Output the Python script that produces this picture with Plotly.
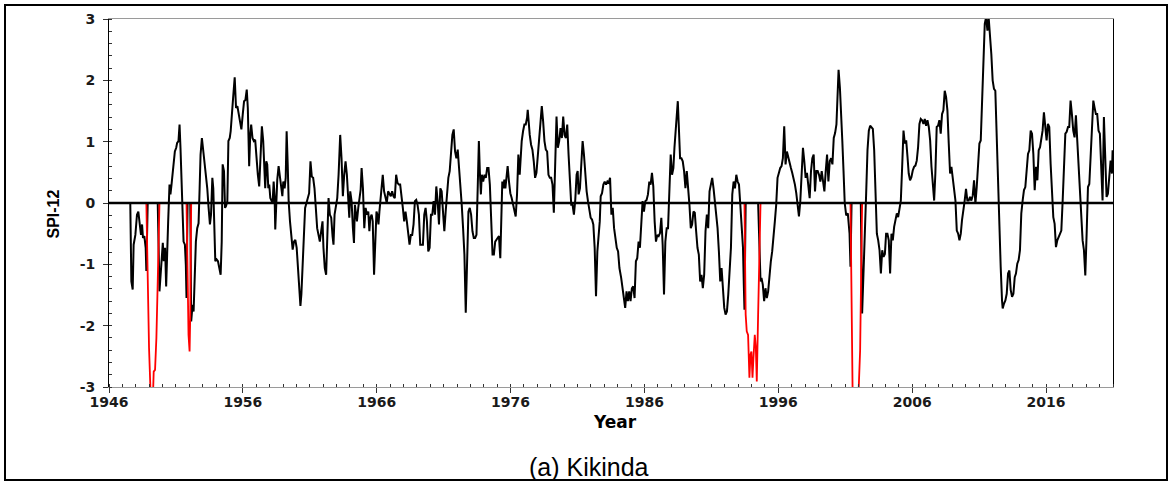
import plotly.graph_objects as go

# ---- data: (decimal year, SPI-12) ----
spi_1940s = [
    (1947.59, 0.0), (1947.67, -1.28), (1947.77, -1.41), (1947.84, -0.68), (1947.97, -0.52),
    (1948.09, -0.19), (1948.19, -0.14), (1948.29, -0.35), (1948.39, -0.52), (1948.47, -0.35),
    (1948.54, -0.57), (1948.64, -0.54), (1948.74, -0.73), (1948.79, -1.11),
    (1948.89, -1.28), (1948.99, -2.36), (1949.09, -3.0), (1949.19, -3.3), (1949.29, -3.1),
    (1949.34, -2.75), (1949.44, -2.72), (1949.54, -2.2), (1949.64, -1.28),
    (1949.77, -1.44), (1949.84, -1.17), (1949.92, -0.84),
]
spi_1950s = [
    (1950.02, -0.65), (1950.09, -0.95), (1950.19, -0.73), (1950.27, -1.36), (1950.34, -0.63),
    (1950.42, -0.3), (1950.52, 0.3), (1950.59, 0.14), (1950.67, 0.3), (1950.77, 0.52),
    (1950.84, 0.68), (1950.92, 0.84), (1951.02, 0.9), (1951.09, 0.98), (1951.19, 1.01),
    (1951.27, 1.28), (1951.34, 0.9), (1951.42, 0.46), (1951.49, 0.03), (1951.57, -0.63),
    (1951.67, -0.68), (1951.74, -1.01), (1951.79, -1.55),
    (1951.87, -1.82), (1951.94, -2.15), (1952.02, -2.42), (1952.07, -1.82),
    (1952.14, -1.93), (1952.24, -1.66), (1952.32, -1.77), (1952.39, -1.28), (1952.49, -0.63),
    (1952.59, -0.41), (1952.69, -0.33), (1952.77, 0.24), (1952.84, 0.79), (1952.94, 1.06),
    (1953.04, 0.84), (1953.14, 0.68), (1953.24, 0.52), (1953.34, 0.24), (1953.44, -0.08),
    (1953.54, -0.35), (1953.62, -0.19), (1953.72, 0.41), (1953.79, 0.24), (1953.87, -0.46),
    (1953.94, -0.95), (1954.04, -0.92), (1954.14, -0.95), (1954.24, -1.06), (1954.34, -1.17),
    (1954.42, -0.63), (1954.49, 0.63), (1954.59, 0.52), (1954.67, -0.08), (1954.74, -0.05),
    (1954.84, 0.03), (1954.92, 1.01), (1955.02, 1.06), (1955.09, 1.17), (1955.17, 1.49),
    (1955.27, 1.71), (1955.39, 2.05), (1955.49, 1.55), (1955.59, 1.58), (1955.69, 1.47),
    (1955.79, 1.33), (1955.89, 1.2), (1955.99, 1.44), (1956.09, 1.66), (1956.19, 1.68),
    (1956.29, 1.85), (1956.37, 1.55), (1956.47, 0.6), (1956.55, 1.11), (1956.62, 1.28),
    (1956.72, 1.06), (1956.82, 1.01), (1956.92, 1.03), (1957.02, 0.68), (1957.12, 0.46),
    (1957.22, 0.27), (1957.32, 0.73), (1957.42, 1.25), (1957.52, 1.01), (1957.6, 0.52),
    (1957.67, 0.24), (1957.75, 0.68), (1957.82, 0.63), (1957.9, 0.24), (1957.97, 0.3),
    (1958.05, 0.08), (1958.12, 0.05), (1958.22, 0.0), (1958.3, 0.35), (1958.37, 0.11),
    (1958.42, -0.43), (1958.5, 0.03), (1958.57, 0.38), (1958.67, 0.6), (1958.77, 0.41),
    (1958.87, 0.24), (1958.95, 0.11), (1959.02, 0.35), (1959.12, 0.24), (1959.2, 0.41),
    (1959.27, 1.17), (1959.35, 0.63), (1959.42, 0.03), (1959.52, -0.3), (1959.62, -0.52),
    (1959.72, -0.76), (1959.82, -0.63), (1959.92, -0.6),
]
spi_1960s = [
    (1960.02, -0.73), (1960.12, -1.06), (1960.22, -1.44), (1960.3, -1.68), (1960.37, -1.49),
    (1960.45, -1.06), (1960.55, -0.52), (1960.65, -0.08), (1960.75, 0.0), (1960.85, 0.08),
    (1960.95, 0.16), (1961.05, 0.68), (1961.15, 0.43), (1961.25, 0.41), (1961.35, 0.24),
    (1961.45, -0.08), (1961.55, -0.41), (1961.65, -0.52), (1961.75, -0.63), (1961.85, -0.46),
    (1961.95, -0.3), (1962.02, -0.73), (1962.12, -1.06), (1962.22, -1.17), (1962.3, -0.63),
    (1962.4, 0.08), (1962.5, -0.19), (1962.6, -0.24), (1962.7, -0.54), (1962.77, -0.68),
    (1962.85, -0.19), (1962.95, -0.03), (1963.05, 0.08), (1963.15, 0.46), (1963.27, 1.11),
    (1963.37, 0.73), (1963.47, 0.11), (1963.57, 0.46), (1963.67, 0.68), (1963.77, 0.46),
    (1963.87, 0.14), (1963.95, -0.24), (1964.02, 0.19), (1964.12, 0.03), (1964.22, -0.41),
    (1964.3, -0.65), (1964.37, -0.03), (1964.45, -0.19), (1964.52, -0.3), (1964.62, -0.08),
    (1964.72, 0.14), (1964.8, 0.22), (1964.87, 0.57), (1964.97, 0.24), (1965.07, -0.41),
    (1965.17, -0.08), (1965.27, -0.19), (1965.37, -0.14), (1965.45, -0.46), (1965.52, -0.24),
    (1965.62, -0.19), (1965.7, -0.3), (1965.8, -1.17), (1965.9, -0.46), (1965.98, -0.14),
    (1966.05, -0.19), (1966.13, -0.35), (1966.2, -0.14), (1966.28, 0.03), (1966.35, 0.14),
    (1966.45, 0.46), (1966.55, 0.19), (1966.65, 0.08), (1966.75, 0.0), (1966.85, 0.19),
    (1966.95, 0.16), (1967.05, 0.11), (1967.15, 0.19), (1967.25, 0.11), (1967.35, 0.08),
    (1967.45, 0.46), (1967.55, 0.33), (1967.65, 0.3), (1967.75, 0.3), (1967.85, 0.14),
    (1967.95, -0.08), (1968.05, -0.3), (1968.15, -0.14), (1968.25, -0.3), (1968.35, -0.46),
    (1968.45, -0.68), (1968.55, -0.52), (1968.65, -0.52), (1968.75, -0.35), (1968.85, 0.03),
    (1968.95, 0.05), (1969.05, -0.03), (1969.15, -0.19), (1969.25, -0.68), (1969.35, -0.68),
    (1969.45, -0.68), (1969.55, -0.19), (1969.65, -0.08), (1969.75, -0.3), (1969.85, -0.79),
    (1969.95, -0.73),
]
spi_1970s = [
    (1970.05, -0.19), (1970.15, -0.19), (1970.25, 0.03), (1970.35, -0.19), (1970.45, 0.27),
    (1970.55, 0.03), (1970.65, -0.35), (1970.75, 0.24), (1970.85, 0.19), (1970.95, -0.14),
    (1971.05, -0.46), (1971.15, -0.14), (1971.25, 0.19), (1971.35, 0.41), (1971.45, 0.52),
    (1971.55, 0.79), (1971.65, 1.11), (1971.75, 1.2), (1971.85, 0.84), (1971.95, 0.73),
    (1972.05, 0.87), (1972.15, 0.57), (1972.25, 0.3), (1972.35, -0.03), (1972.45, -0.41),
    (1972.55, -0.84), (1972.65, -1.79), (1972.75, -0.84), (1972.85, -0.14), (1972.95, -0.08),
    (1973.05, -0.19), (1973.15, -0.46), (1973.25, -0.57), (1973.35, -0.57), (1973.45, -0.52),
    (1973.55, 0.3), (1973.63, 1.01), (1973.7, 0.52), (1973.78, 0.14), (1973.85, 0.46),
    (1973.95, 0.35), (1974.05, 0.46), (1974.15, 0.41), (1974.25, 0.57), (1974.35, 0.57),
    (1974.45, 0.3), (1974.55, -0.35), (1974.65, -0.84), (1974.75, -0.84), (1974.85, -0.63),
    (1975.03, -0.57), (1975.13, -0.54), (1975.23, -0.9), (1975.31, -0.3), (1975.38, 0.35),
    (1975.46, 0.24), (1975.53, 0.38), (1975.61, 0.24), (1975.68, 0.46), (1975.78, 0.6),
    (1975.88, 0.35), (1975.98, 0.16), (1976.08, 0.08), (1976.18, -0.03), (1976.28, -0.08),
    (1976.38, -0.22), (1976.48, 0.14), (1976.58, 0.79), (1976.68, 0.46), (1976.76, 0.79),
    (1976.83, 1.01), (1976.93, 1.17), (1977.03, 1.28), (1977.13, 1.28), (1977.23, 1.39),
    (1977.28, 1.52), (1977.36, 1.17), (1977.43, 1.11), (1977.53, 0.95), (1977.63, 0.87),
    (1977.73, 0.68), (1977.83, 0.41), (1977.93, 0.49), (1978.03, 0.79), (1978.13, 1.14),
    (1978.23, 1.33), (1978.33, 1.58), (1978.43, 1.33), (1978.53, 1.01), (1978.63, 0.87),
    (1978.73, 0.84), (1978.83, 0.46), (1978.93, 0.41), (1979.03, 0.41), (1979.13, 0.3),
    (1979.23, -0.16), (1979.33, 0.73), (1979.43, 1.41), (1979.53, 0.9), (1979.63, 1.01),
    (1979.73, 1.22), (1979.83, 1.06), (1979.93, 1.41),
]
spi_1980s = [
    (1980.03, 1.11), (1980.13, 1.06), (1980.23, 1.28), (1980.33, 0.79), (1980.43, 0.24),
    (1980.53, -0.03), (1980.63, -0.03), (1980.73, -0.19), (1980.83, 0.05), (1980.93, 0.46),
    (1981.01, 0.52), (1981.08, 0.14), (1981.18, 0.24), (1981.28, 0.68), (1981.38, 1.01),
    (1981.48, 0.79), (1981.58, 0.46), (1981.68, 0.19), (1981.78, 0.03), (1981.88, -0.08),
    (1981.98, -0.24), (1982.08, -0.27), (1982.18, -0.35), (1982.28, -0.73), (1982.38, -1.52),
    (1982.48, -0.79), (1982.58, -0.52), (1982.66, -0.3), (1982.73, 0.11), (1982.83, 0.16),
    (1982.93, 0.3), (1983.03, 0.35), (1983.13, 0.3), (1983.23, 0.35), (1983.33, 0.33),
    (1983.43, 0.41), (1983.53, -0.19), (1983.63, -0.08), (1983.73, -0.41), (1983.83, -0.57),
    (1983.93, -0.73), (1984.03, -0.79), (1984.13, -1.06), (1984.26, -1.22), (1984.36, -1.39),
    (1984.46, -1.55), (1984.56, -1.71), (1984.66, -1.44), (1984.76, -1.6), (1984.86, -1.44),
    (1984.96, -1.6), (1985.06, -1.39), (1985.16, -1.36), (1985.26, -1.55), (1985.36, -0.95),
    (1985.46, -0.9), (1985.56, -0.63), (1985.66, -0.73), (1985.76, -0.41), (1985.86, 0.03),
    (1985.96, -0.14), (1986.06, 0.03), (1986.16, 0.05), (1986.26, 0.14), (1986.36, 0.35),
    (1986.46, 0.3), (1986.56, 0.49), (1986.66, 0.27), (1986.76, -0.3), (1986.86, -0.63),
    (1986.96, -0.52), (1987.06, -0.54), (1987.16, -0.49), (1987.26, -0.24), (1987.36, -0.68),
    (1987.46, -1.49), (1987.56, -0.63), (1987.66, -0.41), (1987.76, -0.41), (1987.86, 0.41),
    (1987.96, 0.79), (1988.06, 0.46), (1988.16, 0.57), (1988.24, 0.9), (1988.34, 1.17),
    (1988.41, 1.49), (1988.49, 1.66), (1988.56, 1.28), (1988.66, 0.73), (1988.76, 0.73),
    (1988.86, 0.68), (1988.96, 0.52), (1989.06, 0.24), (1989.16, 0.52), (1989.26, 0.3),
    (1989.36, -0.03), (1989.46, -0.41), (1989.56, -0.35), (1989.66, -0.14), (1989.76, -0.16),
    (1989.86, -0.46), (1989.96, -0.73),
]
spi_1990s = [
    (1990.06, -0.84), (1990.16, -1.28), (1990.26, -1.17), (1990.36, -1.39), (1990.46, -1.17),
    (1990.56, -0.46), (1990.66, -0.19), (1990.76, -0.41), (1990.86, 0.19), (1990.96, 0.3),
    (1991.06, 0.41), (1991.16, 0.24), (1991.26, 0.03), (1991.36, -0.19), (1991.46, -0.41),
    (1991.56, -0.79), (1991.66, -1.28), (1991.76, -1.06), (1991.86, -1.49), (1991.96, -1.71),
    (1992.06, -1.82), (1992.16, -1.77), (1992.26, -1.49), (1992.36, -1.06), (1992.46, -0.73),
    (1992.56, 0.14), (1992.66, 0.35), (1992.76, 0.24), (1992.86, 0.46), (1992.96, 0.35),
    (1993.06, 0.3), (1993.16, -0.03), (1993.26, -0.41), (1993.36, -0.73), (1993.42, -1.33),
    (1993.47, -1.74),
    (1993.56, -1.82), (1993.64, -2.09), (1993.74, -2.15), (1993.84, -2.85), (1993.92, -2.47),
    (1993.99, -2.42), (1994.07, -2.85), (1994.14, -2.53), (1994.24, -2.15), (1994.32, -2.36),
    (1994.39, -2.91), (1994.49, -1.82),
    (1994.67, -1.28), (1994.74, -1.22), (1994.84, -1.33), (1994.94, -1.6), (1995.04, -1.39),
    (1995.14, -1.55), (1995.24, -1.44), (1995.34, -1.17), (1995.44, -0.95), (1995.54, -0.79),
    (1995.64, -0.46), (1995.74, -0.3), (1995.84, -0.03), (1995.94, 0.41), (1996.04, 0.49),
    (1996.14, 0.57), (1996.24, 0.6), (1996.34, 0.73), (1996.44, 1.25), (1996.54, 0.63),
    (1996.64, 0.84), (1996.74, 0.73), (1996.84, 0.68), (1996.94, 0.57), (1997.04, 0.49),
    (1997.14, 0.41), (1997.24, 0.3), (1997.34, 0.16), (1997.44, -0.08), (1997.54, -0.22),
    (1997.64, 0.03), (1997.74, 0.52), (1997.84, 0.9), (1997.94, 0.68), (1998.04, 0.41),
    (1998.14, 0.49), (1998.24, 0.24), (1998.34, 0.08), (1998.44, 0.52), (1998.54, 0.73),
    (1998.64, 0.79), (1998.74, 0.19), (1998.84, 0.52), (1998.94, 0.52), (1999.04, 0.46),
    (1999.14, 0.35), (1999.24, 0.52), (1999.34, 0.3), (1999.44, 0.19), (1999.54, 0.52),
    (1999.64, 0.79), (1999.74, 0.35), (1999.84, 0.68), (1999.94, 0.73),
]
spi_2000s = [
    (2000.04, 0.63), (2000.14, 1.06), (2000.24, 1.14), (2000.34, 1.28), (2000.42, 1.66),
    (2000.5, 2.17), (2000.6, 1.88), (2000.68, 1.55), (2000.78, 1.01), (2000.87, 0.52),
    (2000.96, 0.0), (2001.07, -0.2), (2001.19, -0.17), (2001.32, -0.5), (2001.39, -1.04),
    (2001.47, -2.13), (2001.57, -3.5), (2001.69, -3.6), (2001.81, -3.6), (2001.94, -3.4),
    (2002.01, -3.0), (2002.11, -2.4), (2002.16, -1.59),
    (2002.26, -1.8), (2002.36, -1.04), (2002.46, -0.23), (2002.56, 0.15), (2002.66, 0.86),
    (2002.76, 1.18), (2002.86, 1.26), (2002.96, 1.24), (2003.06, 1.21), (2003.16, 0.86),
    (2003.26, 0.26), (2003.31, 0.04), (2003.36, -0.5), (2003.46, -0.61), (2003.56, -0.77),
    (2003.66, -1.15), (2003.76, -0.77), (2003.86, -0.88), (2003.96, -0.83), (2004.05, -0.5),
    (2004.15, -0.5), (2004.25, -0.61), (2004.35, -1.15), (2004.45, -0.5), (2004.55, -0.61),
    (2004.65, -0.39), (2004.75, -0.28), (2004.85, -0.17), (2004.95, -0.23), (2005.05, -0.12),
    (2005.15, 0.04), (2005.25, 0.59), (2005.35, 1.18), (2005.45, 0.97), (2005.55, 1.02),
    (2005.65, 0.75), (2005.74, 0.48), (2005.84, 0.37), (2005.94, 0.42), (2006.04, 0.53),
    (2006.14, 0.59), (2006.24, 0.61), (2006.34, 0.69), (2006.44, 0.91), (2006.54, 1.29),
    (2006.64, 1.37), (2006.74, 1.35), (2006.84, 1.29), (2006.94, 1.37), (2007.04, 1.26),
    (2007.14, 1.35), (2007.24, 1.24), (2007.34, 1.02), (2007.44, 0.59), (2007.54, 0.26),
    (2007.64, 0.04), (2007.73, 0.48), (2007.83, 1.24), (2007.93, 1.26), (2008.03, 1.35),
    (2008.13, 1.13), (2008.23, 1.45), (2008.33, 1.51), (2008.43, 1.83), (2008.53, 1.73),
    (2008.63, 1.51), (2008.73, 0.97), (2008.83, 0.48), (2008.93, 0.59), (2009.03, 0.42),
    (2009.13, 0.26), (2009.23, 0.04), (2009.33, -0.45), (2009.43, -0.5), (2009.53, -0.61),
    (2009.63, -0.5), (2009.72, -0.28), (2009.82, -0.07), (2009.92, 0.04),
]
spi_2010s = [
    (2010.02, 0.23), (2010.12, 0.04), (2010.22, 0.04), (2010.32, 0.1), (2010.42, 0.04),
    (2010.52, 0.12), (2010.62, 0.37), (2010.72, -0.01), (2010.82, 0.26), (2010.92, 0.59),
    (2011.02, 0.97), (2011.12, 1.02), (2011.22, 1.67), (2011.32, 2.49), (2011.42, 2.92),
    (2011.52, 3.03), (2011.62, 2.81), (2011.71, 3.03), (2011.81, 2.76), (2011.91, 2.43),
    (2012.01, 2.0), (2012.11, 1.86), (2012.21, 1.83), (2012.31, 1.13), (2012.41, 0.04),
    (2012.51, -0.45), (2012.61, -1.04), (2012.71, -1.59), (2012.76, -1.72), (2012.86, -1.64),
    (2012.96, -1.59), (2013.06, -1.48), (2013.16, -1.15), (2013.26, -1.1), (2013.36, -1.42),
    (2013.46, -1.53), (2013.56, -1.48), (2013.66, -1.21), (2013.75, -1.15), (2013.85, -0.99),
    (2013.95, -0.93), (2014.05, -0.77), (2014.15, -0.17), (2014.25, 0.04), (2014.35, 0.21),
    (2014.45, 0.26), (2014.55, 0.59), (2014.65, 0.8), (2014.75, 0.86), (2014.85, 1.18),
    (2014.95, 1.13), (2015.05, 0.8), (2015.15, 0.21), (2015.25, 0.59), (2015.35, 0.37),
    (2015.45, 0.86), (2015.55, 0.91), (2015.65, 1.07), (2015.74, 1.18), (2015.84, 1.48),
    (2015.94, 1.24), (2016.04, 1.02), (2016.14, 1.29), (2016.24, 1.24), (2016.34, 0.64),
    (2016.44, 0.04), (2016.54, -0.23), (2016.64, -0.34), (2016.74, -0.72), (2016.84, -0.61),
    (2016.94, -0.55), (2017.04, -0.5), (2017.14, -0.45), (2017.24, 0.04), (2017.34, 0.59),
    (2017.44, 1.13), (2017.54, 1.16), (2017.64, 1.24), (2017.73, 1.24), (2017.83, 1.67),
    (2017.93, 1.45), (2018.03, 1.18), (2018.13, 1.07), (2018.23, 1.43), (2018.33, 1.02),
    (2018.43, 0.59), (2018.53, 0.26), (2018.63, -0.07), (2018.73, -0.61), (2018.83, -0.77),
    (2018.93, -1.18), (2019.03, -0.5), (2019.13, 0.26), (2019.23, 0.31), (2019.33, 0.86),
    (2019.43, 1.13), (2019.53, 1.67), (2019.62, 1.56), (2019.72, 1.45), (2019.82, 1.45),
    (2019.92, 1.18),
]
spi_2020s = [
    (2020.02, 1.13), (2020.12, 0.64), (2020.22, 0.04), (2020.32, 1.4), (2020.42, 0.59),
    (2020.52, 0.1), (2020.62, 0.15), (2020.72, 0.48), (2020.82, 0.69), (2020.92, 0.48),
    (2020.97, 0.86),
]

# extreme-drought episodes (drawn in red)
extreme_start = [1948.85, 1951.83, 1993.50, 2001.43]
extreme_end = [1949.70, 1952.10, 1994.55, 2002.20]

x_tick_vals = [1946, 1956, 1966, 1976, 1986, 1996, 2006, 2016]
x_tick_labels = ["1946", "1956", "1966", "1976", "1986", "1996", "2006", "2016"]
y_tick_vals = [-3, -2, -1, 0, 1, 2, 3]
y_tick_labels = ["-3", "-2", "-1", "0", "1", "2", "3"]

# ---- build traces ----
pairs = spi_1940s + spi_1950s + spi_1960s + spi_1970s + spi_1980s + spi_1990s + spi_2000s + spi_2010s + spi_2020s
years = [p[0] for p in pairs]
spi = [p[1] for p in pairs]


def in_extreme(t):
    return any(s <= t <= e for s, e in zip(extreme_start, extreme_end))


mask = [in_extreme(t) for t in years]
black_y = [0.0 if m else v for v, m in zip(spi, mask)]

red_x, red_y = [], []
i = 0
n = len(years)
while i < n:
    if mask[i]:
        j = i
        while j + 1 < n and mask[j + 1]:
            j += 1
        if i > 0:
            red_x.append(years[i - 1]); red_y.append(0.0)
        for k in range(i, j + 1):
            red_x.append(years[k]); red_y.append(spi[k])
        if j + 1 < n:
            red_x.append(years[j + 1]); red_y.append(0.0)
        red_x.append(None); red_y.append(None)
        i = j + 1
    else:
        i += 1

fig = go.Figure()
fig.add_trace(go.Scatter(x=years, y=black_y, mode="lines",
                         line=dict(color="#000000", width=2), showlegend=False, hoverinfo="skip"))
fig.add_trace(go.Scatter(x=red_x, y=red_y, mode="lines",
                         line=dict(color="#ff0000", width=1.8), showlegend=False, hoverinfo="skip"))

W, H = 1171, 482
L, R, T, B = 109, 58, 19, 95
pw, ph = W - L - R, H - T - B


def px_x(px):
    return (px - L) / pw


def px_y(py):
    return (H - B - py) / ph


tick_font = dict(family="DejaVu Sans", size=14, color="#1a1a1a", weight="bold")

fig.update_layout(
    width=W, height=H,
    margin=dict(l=L, r=R, t=T, b=B, autoexpand=False),
    paper_bgcolor="white", plot_bgcolor="white",
    xaxis=dict(
        range=[1946, 2021], showgrid=False, zeroline=False,
        showline=True, linecolor="#9a9a9a", linewidth=1, mirror=True,
        tickmode="array", tickvals=x_tick_vals, ticktext=x_tick_labels,
        ticks="outside", ticklen=5, tickwidth=1, tickcolor="#333333",
        tickfont=tick_font, ticklabelstandoff=-3,
        minor=dict(tickmode="linear", tick0=1946, dtick=1, ticks="inside",
                   ticklen=3, tickwidth=1, tickcolor="#333333", showgrid=False),
    ),
    yaxis=dict(
        range=[-3, 3], showgrid=False, zeroline=False,
        showline=True, linecolor="#000000", linewidth=1, mirror=True,
        tickmode="array", tickvals=y_tick_vals, ticktext=y_tick_labels,
        ticks="outside", ticklen=5, tickwidth=1, tickcolor="#333333",
        tickfont=tick_font, ticklabelstandoff=5,
        minor=dict(tickmode="linear", tick0=-3, dtick=0.2, ticks="inside",
                   ticklen=3, tickwidth=1, tickcolor="#333333", showgrid=False),
    ),
    shapes=[
        dict(type="line", xref="x", yref="y", x0=1946, x1=2021, y0=0, y1=0,
             line=dict(color="#000000", width=2.5), layer="above"),
        dict(type="rect", xref="paper", yref="paper",
             x0=px_x(5), x1=px_x(1167), y0=px_y(480), y1=px_y(5),
             line=dict(color="#000000", width=2), fillcolor="rgba(0,0,0,0)", layer="above"),
    ],
    annotations=[
        dict(text="SPI-12", xref="paper", yref="paper", x=px_x(52.5), y=px_y(214),
             textangle=-90, showarrow=False, xanchor="center", yanchor="middle",
             font=dict(family="Liberation Sans", size=16, color="#000000", weight="bold")),
        dict(text="Year", xref="paper", yref="paper", x=px_x(615), y=px_y(422),
             showarrow=False, xanchor="center", yanchor="middle",
             font=dict(family="DejaVu Sans", size=17, color="#000000", weight="bold")),
        dict(text="(a) Kikinda", xref="paper", yref="paper", x=px_x(588.5), y=px_y(467),
             showarrow=False, xanchor="center", yanchor="middle",
             font=dict(family="Liberation Sans", size=25, color="#000000")),
    ],
)

fig.write_html("out.html")
